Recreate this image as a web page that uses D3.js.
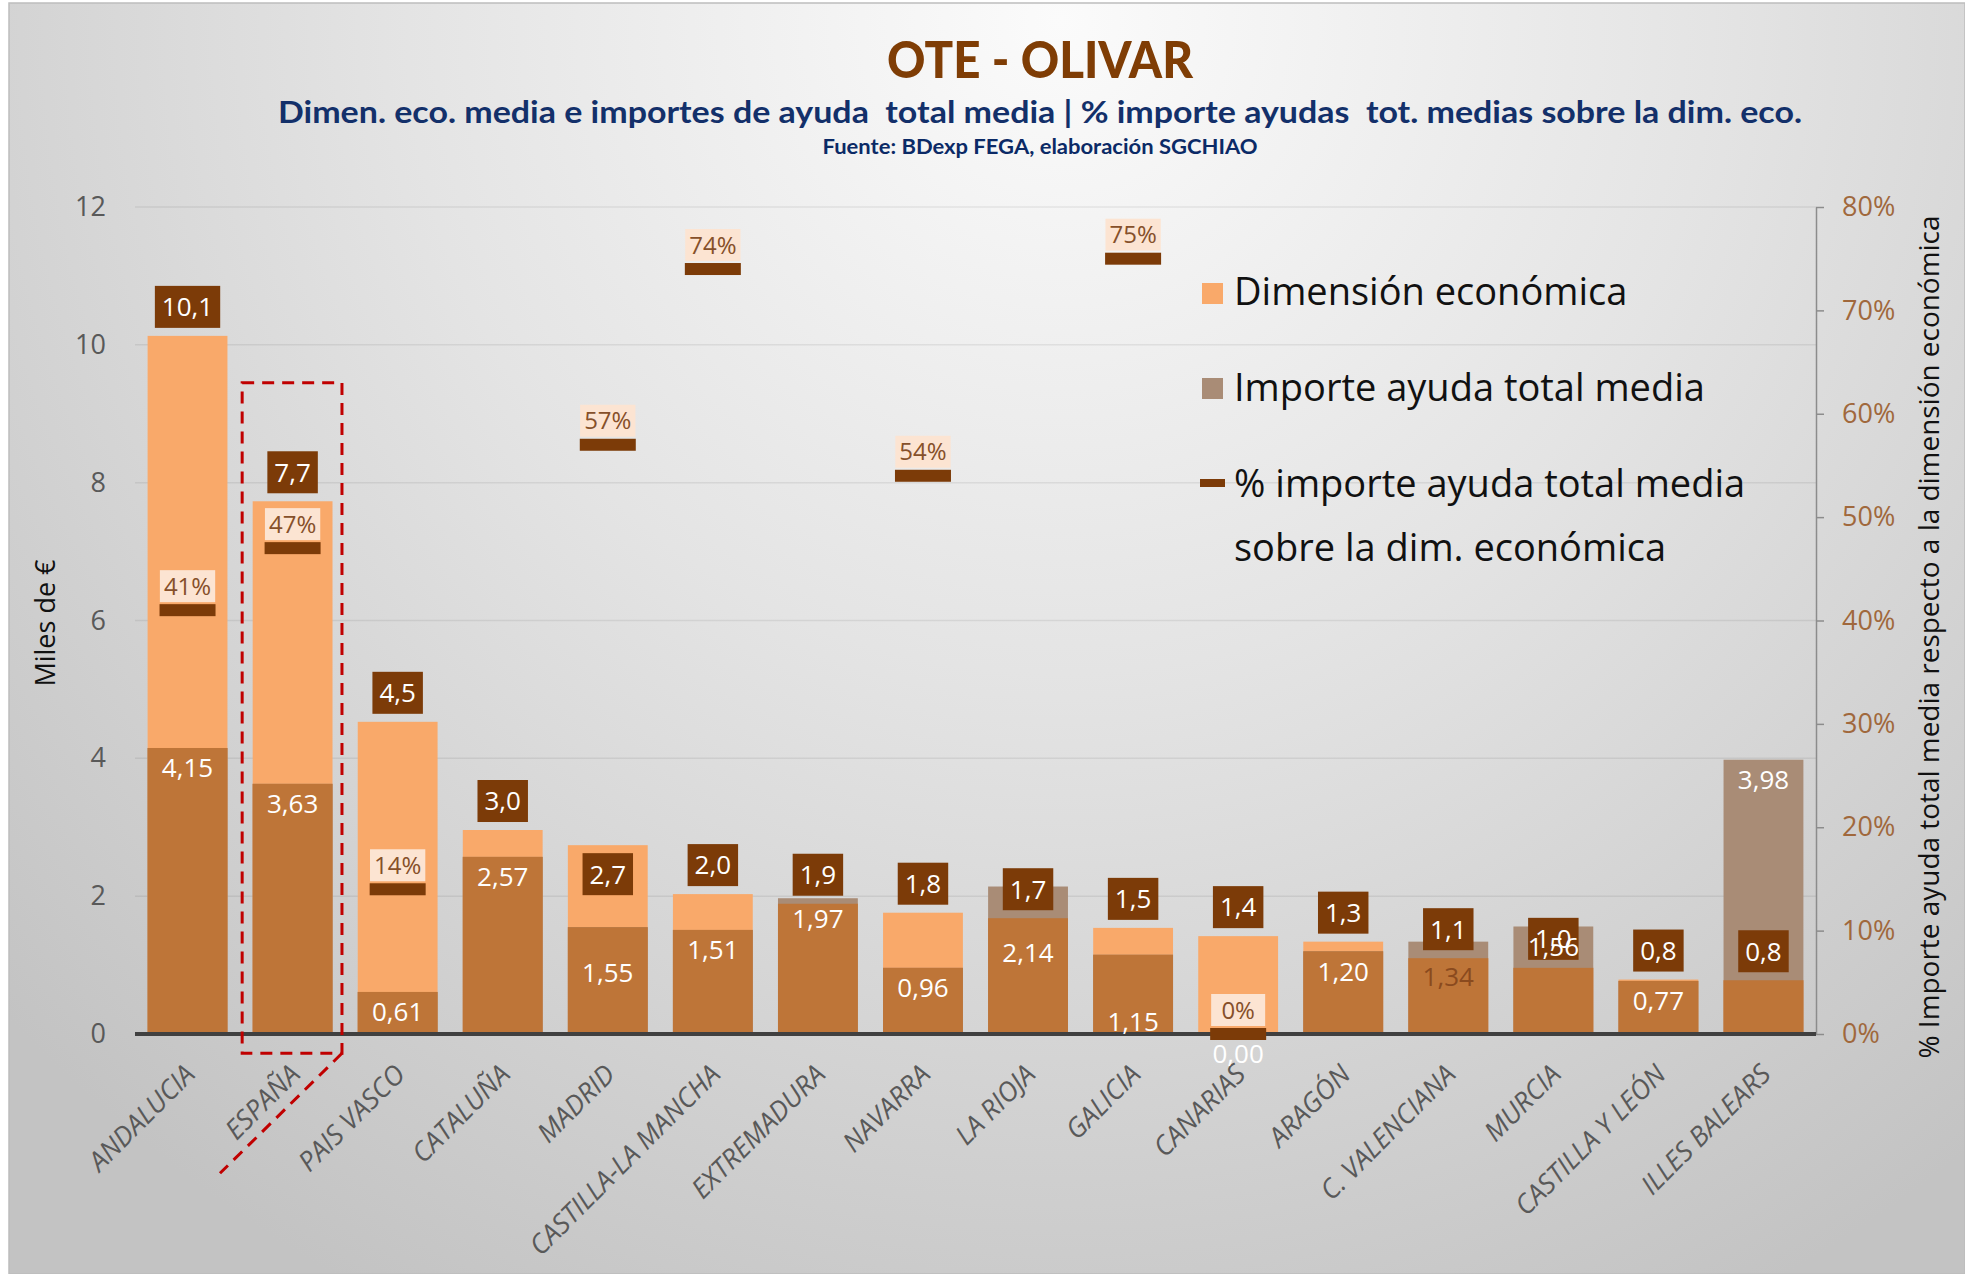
<!DOCTYPE html>
<html><head><meta charset="utf-8">
<script src="https://cdn.jsdelivr.net/npm/d3@7"></script>
<style>html,body{margin:0;padding:0;background:#fff;} svg{display:block;}</style>
</head><body>
<svg id="chart" width="1965" height="1274"></svg>
<script>
// ---------- DATA ----------
const categories = ["ANDALUCIA","ESPAÑA","PAIS VASCO","CATALUÑA","MADRID","CASTILLA-LA MANCHA","EXTREMADURA","NAVARRA","LA RIOJA","GALICIA","CANARIAS","ARAGÓN","C. VALENCIANA","MURCIA","CASTILLA Y LEÓN","ILLES BALEARS"];
const dimEconomica = [10.13,7.73,4.53,2.96,2.74,2.03,1.89,1.76,1.68,1.54,1.42,1.34,1.10,0.96,0.79,0.78];
const importeAyuda = [4.15,3.63,0.61,2.57,1.55,1.51,1.97,0.96,2.14,1.15,0.00,1.20,1.34,1.56,0.77,3.98];
const pctImporte = [41,47,14,null,57,74,null,54,null,75,0,null,null,null,null,null];
const leftTicks = [0,2,4,6,8,10,12];
const rightTicks = [0,10,20,30,40,50,60,70,80];
const seriesNames = ["Dimensión económica","Importe ayuda total media","% importe ayuda total media","sobre la dim. económica"];
const titleText = "OTE - OLIVAR";
const subtitleText = "Dimen. eco. media e importes de ayuda  total media | % importe ayudas  tot. medias sobre la dim. eco.";
const sourceText = "Fuente: BDexp FEGA, elaboración SGCHIAO";
const leftAxisTitle = "Miles de €";
const rightAxisTitle = "% Importe ayuda total media respecto a la dimensión económica";

// ---------- STYLE / LAYOUT ----------
const C = {
  light: "#F9A96A", over: "#A98C76", dark: "#BE7538", box: "#7C3B08",
  pctBox: "#FCE4D2", pctText: "#86502A", rightTick: "#A0683C", tick: "#595959"
};
const FONT = "'Open Sans', 'Segoe UI', sans-serif";
const TFONT = "Lato, 'Open Sans', sans-serif";
const plot = {left:135, right:1816, top:207, bottom:1034};
const dimLabelInside = new Set(["MADRID"]);
const impLabelNudge = {"MADRID":25, "LA RIOJA":46, "GALICIA":47, "C. VALENCIANA":15};
const impLabelDark = new Set(["C. VALENCIANA"]);
const fmt1 = v => d3.format(".1f")(v).replace(".", ",");
const fmt2 = v => d3.format(".2f")(v).replace(".", ",");

const svg = d3.select("#chart");
const defs = svg.append("defs");
const grad = defs.append("radialGradient").attr("id","bg")
  .attr("gradientUnits","userSpaceOnUse").attr("cx",1060).attr("cy",20).attr("r",1450);
grad.append("stop").attr("offset",0).attr("stop-color","#FBFBFB");
grad.append("stop").attr("offset",0.45).attr("stop-color","#E4E4E4");
grad.append("stop").attr("offset",1).attr("stop-color","#C3C3C3");

svg.append("rect").attr("x",9).attr("y",3).attr("width",1956).attr("height",1271)
  .attr("fill","url(#bg)").attr("stroke","#BDBDBD").attr("stroke-width",1.5);

const x = d3.scaleBand().domain(categories).range([plot.left, plot.right]).paddingInner(0.24).paddingOuter(0.12);
const y = d3.scaleLinear().domain([0,12]).range([plot.bottom, plot.top]);
const yR = d3.scaleLinear().domain([0,80]).range([plot.bottom, plot.top]);
const data = categories.map((c,i)=>({cat:c, dim:dimEconomica[i], imp:importeAyuda[i], pct:pctImporte[i]}));

// titles
svg.append("text").attr("x",1040).attr("y",78).attr("text-anchor","middle")
  .attr("font-family",TFONT).attr("font-weight",900).attr("font-size",52).attr("fill","#7F3D05")
  .attr("textLength",306).attr("lengthAdjust","spacingAndGlyphs").text(titleText);
svg.append("text").attr("x",1040).attr("y",123).attr("text-anchor","middle")
  .attr("font-family",TFONT).attr("font-weight",700).attr("font-size",31).attr("fill","#13306A")
  .attr("textLength",1524).attr("lengthAdjust","spacingAndGlyphs").attr("xml:space","preserve").text(subtitleText);
svg.append("text").attr("x",1040).attr("y",154).attr("text-anchor","middle")
  .attr("font-family",TFONT).attr("font-weight",700).attr("font-size",20).attr("fill","#0B2A66")
  .attr("textLength",435).attr("lengthAdjust","spacingAndGlyphs").text(sourceText);

// gridlines
svg.append("g").selectAll("line").data(leftTicks.filter(d=>d>0)).join("line")
  .attr("x1",plot.left).attr("x2",plot.right).attr("y1",d=>y(d)).attr("y2",d=>y(d))
  .attr("stroke","#000").attr("stroke-opacity",0.07).attr("stroke-width",1.5);

// left axis
const gL = svg.append("g").attr("transform",`translate(${plot.left},0)`)
  .call(d3.axisLeft(y).tickValues(leftTicks).tickSize(0).tickPadding(29).tickFormat(d3.format("d")));
gL.select(".domain").remove();
gL.selectAll("text").attr("font-family",FONT).attr("font-size",27).attr("fill",C.tick);

// right axis
const gR = svg.append("g").attr("transform",`translate(${plot.right},0)`)
  .call(d3.axisRight(yR).tickValues(rightTicks).tickSize(8).tickSizeOuter(0).tickPadding(18).tickFormat(d=>d+"%"));
gR.select(".domain").attr("stroke","#8C8C8C").attr("stroke-width",1.5);
gR.selectAll(".tick line").attr("stroke","#8C8C8C").attr("stroke-width",1.5);
gR.selectAll("text").attr("font-family",FONT).attr("font-size",27).attr("fill",C.rightTick);

// axis titles
svg.append("text").attr("transform","translate(46,623) rotate(-90)").attr("text-anchor","middle")
  .attr("dy","0.35em").attr("font-family",FONT).attr("font-size",27).attr("fill","#111").text(leftAxisTitle);
svg.append("text").attr("transform","translate(1930,637) rotate(-90)").attr("text-anchor","middle")
  .attr("dy","0.35em").attr("font-family",FONT).attr("font-size",27).attr("fill","#111")
  .attr("textLength",843).attr("lengthAdjust","spacingAndGlyphs").text(rightAxisTitle);

// bars
const gB = svg.append("g");
gB.selectAll(".dim").data(data).join("rect").attr("class","dim")
  .attr("x",d=>x(d.cat)).attr("width",x.bandwidth())
  .attr("y",d=>y(d.dim)).attr("height",d=>y(0)-y(d.dim)).attr("fill",C.light);
gB.selectAll(".imp").data(data).join("rect").attr("class","imp")
  .attr("x",d=>x(d.cat)).attr("width",x.bandwidth())
  .attr("y",d=>y(d.imp)).attr("height",d=>y(0)-y(d.imp)).attr("fill",C.over);
gB.selectAll(".ov").data(data).join("rect").attr("class","ov")
  .attr("x",d=>x(d.cat)).attr("width",x.bandwidth())
  .attr("y",d=>y(Math.min(d.dim,d.imp))).attr("height",d=>y(0)-y(Math.min(d.dim,d.imp))).attr("fill",C.dark);

// x axis line
svg.append("line").attr("x1",plot.left).attr("x2",plot.right).attr("y1",y(0)).attr("y2",y(0))
  .attr("stroke","#404040").attr("stroke-width",4);

// x labels
svg.append("g").selectAll("text").data(categories).join("text")
  .attr("transform",d=>`translate(${x(d)+x.bandwidth()/2+9},1076) rotate(-45)`)
  .attr("text-anchor","end").attr("font-family",FONT).attr("font-style","italic")
  .attr("font-size",27).attr("fill",C.tick).text(d=>d);

// España highlight
const eTop = y(9.45), eBot = y(-0.28);
const eLeft = x("ESPAÑA")-x.step()*0.1, eW = x.step()*0.95;
svg.append("rect").attr("x",eLeft).attr("y",eTop)
  .attr("width",eW).attr("height",eBot-eTop)
  .attr("fill","none").attr("stroke","#C00000").attr("stroke-width",3).attr("stroke-dasharray","12,8");
svg.append("line").attr("x1",eLeft+eW).attr("y1",eBot)
  .attr("x2",eLeft+eW-122).attr("y2",eBot+120)
  .attr("stroke","#C00000").attr("stroke-width",3).attr("stroke-dasharray","12,8");

// dim labels
const gD = svg.append("g");
data.forEach(d=>{
  const cx = x(d.cat)+x.bandwidth()/2;
  const g = gD.append("g");
  const t = g.append("text").attr("x",cx).attr("text-anchor","middle")
    .attr("font-family",FONT).attr("font-size",26).attr("fill","#fff").text(fmt1(d.dim));
  const w = t.node().getComputedTextLength()+14, h = 42;
  const top = dimLabelInside.has(d.cat) ? y(d.dim)+8 : y(d.dim)-8-h;
  g.insert("rect","text").attr("x",cx-w/2).attr("y",top).attr("width",w).attr("height",h).attr("fill",C.box);
  t.attr("y",top+h/2).attr("dy","0.36em");
});

// importe labels
svg.append("g").selectAll("text").data(data).join("text")
  .attr("x",d=>x(d.cat)+x.bandwidth()/2)
  .attr("y",d=>y(d.imp)+20+(impLabelNudge[d.cat]||0)).attr("dy","0.36em")
  .attr("text-anchor","middle").attr("font-family",FONT).attr("font-size",26)
  .attr("fill",d=>impLabelDark.has(d.cat)?"#8A4A1E":"#fff").text(d=>fmt2(d.imp));

// pct markers + labels
const gP = svg.append("g");
data.filter(d=>d.pct!==null).forEach(d=>{
  const cx = x(d.cat)+x.bandwidth()/2, py = yR(d.pct);
  gP.append("rect").attr("x",cx-28).attr("y",py-6).attr("width",56).attr("height",12).attr("fill",C.box);
  const g = gP.append("g");
  const t = g.append("text").attr("x",cx).attr("text-anchor","middle")
    .attr("font-family",FONT).attr("font-size",24).attr("fill",C.pctText).text(d.pct+"%");
  const w = Math.max(54, t.node().getComputedTextLength()+8), h = 32;
  const top = py-8-h;
  g.insert("rect","text").attr("x",cx-w/2).attr("y",top).attr("width",w).attr("height",h).attr("fill",C.pctBox);
  t.attr("y",top+h/2).attr("dy","0.36em");
});

// legend
const lg = svg.append("g").attr("font-family",FONT).attr("font-size",38).attr("fill","#111");
const lx = 1234;
lg.append("rect").attr("x",1202).attr("y",283).attr("width",21).attr("height",21).attr("fill",C.light);
lg.append("text").attr("x",lx).attr("y",305).text(seriesNames[0]);
lg.append("rect").attr("x",1202).attr("y",378).attr("width",21).attr("height",21).attr("fill",C.over);
lg.append("text").attr("x",lx).attr("y",401).text(seriesNames[1]);
lg.append("rect").attr("x",1200).attr("y",479).attr("width",25).attr("height",8).attr("fill",C.box);
lg.append("text").attr("x",lx).attr("y",497).text(seriesNames[2]);
lg.append("text").attr("x",lx).attr("y",561).text(seriesNames[3]);
</script>
</body></html>
